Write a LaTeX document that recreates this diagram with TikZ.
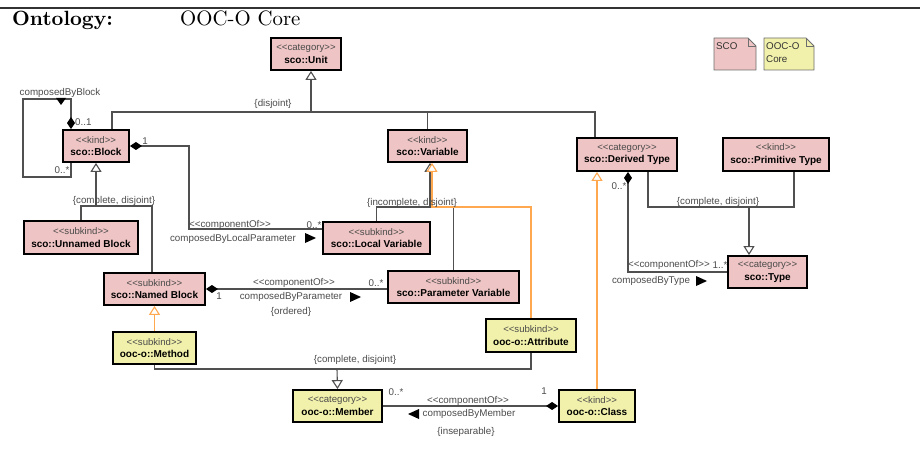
\documentclass[tikz,border=0pt]{standalone}
\usepackage{fontspec}
\newfontfamily\umlfont{Liberation Sans}
\newfontfamily\headrm{lmroman10-regular}[Extension=.otf]
\newfontfamily\headbf{lmroman10-bold}[Extension=.otf]
\usetikzlibrary{arrows.meta}
\definecolor{scopink}{RGB}{239,196,196}
\definecolor{oocyellow}{RGB}{241,241,171}
\definecolor{linegray}{RGB}{80,80,80}
\definecolor{txtgray}{RGB}{75,75,75}
\definecolor{genorange}{RGB}{255,168,80}
\definecolor{notegray}{RGB}{110,110,110}
\definecolor{rulegray}{RGB}{50,50,50}
% stereotype line and class name line of a UML box
\newcommand\stereo[1]{{\fontsize{9.6}{12.5}\selectfont\color{txtgray}<\kern0pt<#1>\kern0pt>}}
\newcommand\cname[1]{\textbf{#1}}
\tikzset{
  umlclass/.style={draw=black, line width=1.8pt, inner sep=0pt, align=center,
    font=\umlfont\fontsize{10}{12.5}\selectfont},
  scoclass/.style={umlclass, fill=scopink},
  oocclass/.style={umlclass, fill=oocyellow},
  conn/.style={draw=linegray, line width=1.1pt},
  genline/.style={conn, -{Triangle[open, fill=white, width=11pt, length=9pt]}},
  orgen/.style={draw=genorange, line width=1.1pt, -{Triangle[open, fill=white, width=11pt, length=9pt]}},
  compline/.style={conn, {Diamond[width=8pt, length=12pt, color=black]}-},
  lbl/.style={inner sep=0pt, text=txtgray, font=\umlfont\fontsize{9.8}{12}\selectfont},
  readdir/.style={fill=black},
  notebox/.style={draw=notegray, line width=0.8pt},
  notetext/.style={inner sep=0pt, anchor=north west, align=left, text=black!80,
    font=\umlfont\fontsize{9.8}{12.5}\selectfont},
}
\begin{document}
\begin{tikzpicture}[x=1pt, y=-1pt]
\useasboundingbox (0,0) rectangle (920,449);

% header
\draw[line width=2pt, rulegray] (0,8) -- (920,8);
\node[anchor=base west, inner sep=0pt, font=\headbf\fontsize{20.6}{24}\selectfont] (onto) at (12,26) {Ontology:};
\node[anchor=base west, inner sep=0pt, font=\headrm\fontsize{20.8}{24}\selectfont] (ontname) at (180,26) {OOC-O Core};

% legend notes
\filldraw[notebox, fill=scopink] (714,38) -- (748,38) -- (756,46) -- (756,70) -- (714,70) -- cycle;
\draw[notebox] (748,38) -- (748,46) -- (756,46);
\node[notetext] (scolegend) at (716,42.5) {SCO};
\filldraw[notebox, fill=oocyellow] (764,38) -- (806,38) -- (814,46) -- (814,70) -- (764,70) -- cycle;
\draw[notebox] (806,38) -- (806,46) -- (814,46);
\node[notetext] (ooclegend) at (766,42.5) {OOC-O\\Core};

% classes
\node[scoclass, minimum width=70, minimum height=32] (unit) at (306,54) {\stereo{category}\\\cname{sco::Unit}};
\node[scoclass, minimum width=66, minimum height=32] (block) at (96,146) {\stereo{kind}\\\cname{sco::Block}};
\node[scoclass, minimum width=79, minimum height=32] (variable) at (427.5,146) {\stereo{kind}\\\cname{sco::Variable}};
\node[scoclass, minimum width=100, minimum height=33] (derived) at (627,154.5) {\stereo{category}\\\cname{sco::Derived Type}};
\node[scoclass, minimum width=106, minimum height=33] (primitive) at (776,154.5) {\stereo{kind}\\\cname{sco::Primitive Type}};
\node[scoclass, minimum width=114, minimum height=33] (unnamed) at (81,237.5) {\stereo{subkind}\\\cname{sco::Unnamed Block}};
\node[scoclass, minimum width=107, minimum height=32] (localvar) at (376.5,238) {\stereo{subkind}\\\cname{sco::Local Variable}};
\node[scoclass, minimum width=101, minimum height=32] (named) at (154.5,289) {\stereo{subkind}\\\cname{sco::Named Block}};
\node[scoclass, minimum width=131, minimum height=32] (paramvar) at (453.5,287) {\stereo{subkind}\\\cname{sco::Parameter Variable}};
\node[scoclass, minimum width=79, minimum height=32] (type) at (767.5,272) {\stereo{category}\\\cname{sco::Type}};
\node[oocclass, minimum width=83, minimum height=32] (method) at (154.5,348) {\stereo{subkind}\\\cname{ooc-o::Method}};
\node[oocclass, minimum width=90, minimum height=33] (attribute) at (531,335.5) {\stereo{subkind}\\\cname{ooc-o::Attribute}};
\node[oocclass, minimum width=89, minimum height=32] (member) at (337.5,406) {\stereo{category}\\\cname{ooc-o::Member}};
\node[oocclass, minimum width=76, minimum height=32] (class) at (597,406) {\stereo{kind}\\\cname{ooc-o::Class}};

% junction points of the generalization sets
\coordinate (ujn) at (311,112);
\coordinate (bjn) at (96,206);
\coordinate (vjn) at (431,207);
\coordinate (tjn) at (749,207);
\coordinate (mjn) at (337,369);
\coordinate (loopa) at (23,99);
\coordinate (loopb) at (23,177);
\coordinate (lvbend) at (189,229);

% {disjoint} set under sco::Unit
\draw[conn] ([xshift=16]block.north) |- (ujn) -| ([xshift=-32]derived.north);
\draw[conn] (variable.north) -- (variable.north |- ujn);
\draw[genline] (ujn) -- ([xshift=5]unit.south);
\node[lbl] (ldisj) at (273,104) {\{disjoint\}};

% composedByBlock (self composition)
\draw[compline] ([xshift=-25]block.north) |- (loopa) -- (loopb) -| ([xshift=-25]block.south);
\node[lbl] (lcbb) at (60,93) {composedByBlock};
\fill[readdir] (56,98) -- (66,98) -- (61,105) -- cycle;
\node[lbl, anchor=west] (lm01) at (75,122) {0..1};
\node[lbl] (lm0s) at (62,170) {0..*};

% composedByLocalParameter
\draw[compline] (block.east) -| (lvbend) -- (lvbend -| localvar.west);
\node[lbl] (lm1a) at (145,141) {1};
\node[lbl] (lcoa) at (230,225) {<\kern0pt<componentOf>\kern0pt>};
\node[lbl] (lm0sa) at (314,225) {0..*};
\node[lbl] (lcblp) at (233,239) {composedByLocalParameter};
\fill[readdir] (305,233) -- (316,238) -- (305,243) -- cycle;

% {complete, disjoint} set under sco::Block
\draw[conn] (unnamed.north) |- (bjn) -| ([xshift=-2.5]named.north);
\draw[genline] (bjn) -- (block.south);
\node[lbl] (lcdb) at (114,201) {\{complete, disjoint\}};

% composedByParameter
\draw[compline] (named.east) -- (named.east -| paramvar.west);
\node[lbl] (lm1b) at (219,296) {1};
\node[lbl] (lcob) at (294,283) {<\kern0pt<componentOf>\kern0pt>};
\node[lbl] (lm0sb) at (376,283) {0..*};
\node[lbl] (lcbp) at (291,297) {composedByParameter};
\fill[readdir] (350,292) -- (361,297) -- (350,302) -- cycle;
\node[lbl] (lord) at (291,312) {\{ordered\}};

% {incomplete, disjoint} set under sco::Variable
\draw[conn] (localvar.north) |- (vjn) -| (paramvar.north);
\draw[genline] ([xshift=-1]vjn) -- ([xshift=2.5]variable.south);
\draw[orgen] (attribute.north) |- ([xshift=1]vjn) -- ([xshift=4.5]variable.south);
\node[lbl] (lidj) at (412,203) {\{incomplete, disjoint\}};

% composedByType
\draw[compline] ([xshift=1]derived.south) |- (type.west);
\node[lbl] (lm0sc) at (619,186) {0..*};
\node[lbl] (lcoc) at (669,265) {<\kern0pt<componentOf>\kern0pt>};
\node[lbl] (lm1s) at (720,265) {1..*};
\node[lbl] (lcbt) at (651,281) {composedByType};
\fill[readdir] (696,276) -- (707,281) -- (696,286) -- cycle;

% {complete, disjoint} set under sco::Type
\draw[conn] ([xshift=21]derived.south) |- (tjn) -| ([xshift=18]primitive.south);
\draw[genline] (tjn) -- ([xshift=-18.5]type.north);
\node[lbl] (lcdt) at (718,202) {\{complete, disjoint\}};

% OOC-O specializations of SCO classes
\draw[orgen] (class.north) -- (class.north |- derived.south);
\draw[orgen] (method.north) -- (named.south);

% {complete, disjoint} set under ooc-o::Member
\draw[conn] (method.south) |- (mjn) -| (attribute.south);
\draw[genline] (mjn) -- (member.north);
\node[lbl] (lcdm) at (355,360) {\{complete, disjoint\}};

% composedByMember
\draw[compline] (class.west) -- (member.east);
\node[lbl] (lm0sd) at (396,392) {0..*};
\node[lbl] (lm1d) at (544,391) {1};
\node[lbl] (lcod) at (468,401) {<\kern0pt<componentOf>\kern0pt>};
\node[lbl] (lcbm) at (469,414) {composedByMember};
\fill[readdir] (419,409) -- (408,414) -- (419,419) -- cycle;
\node[lbl] (linsep) at (466,432) {\{inseparable\}};
\end{tikzpicture}
\end{document}
